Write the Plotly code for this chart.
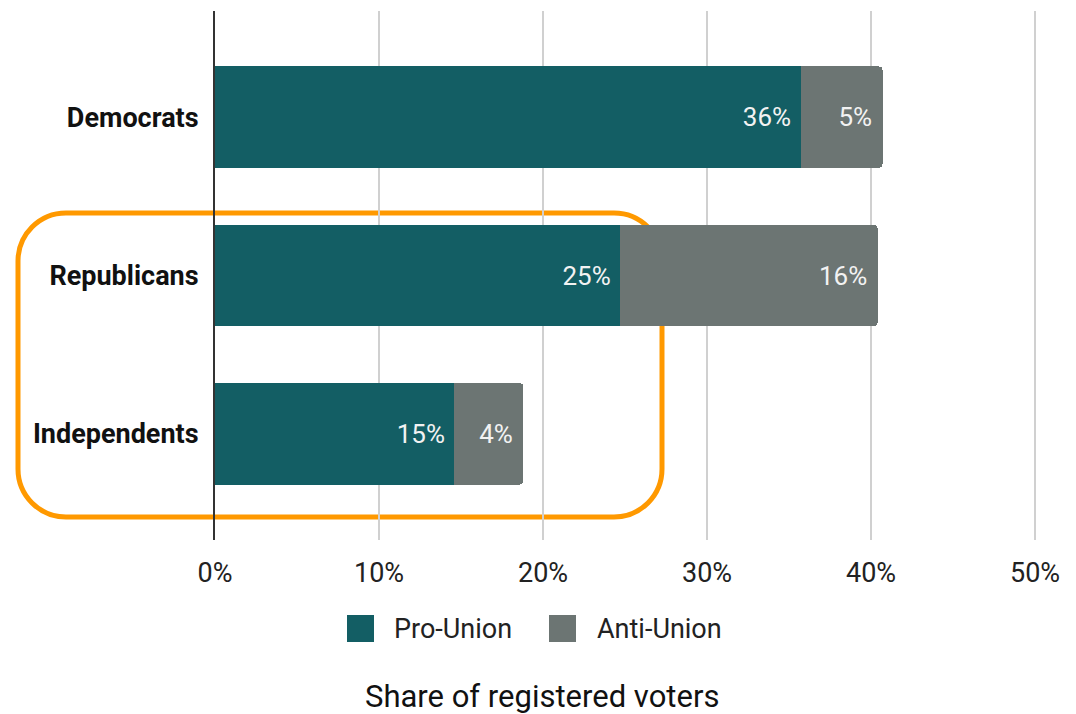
import plotly.graph_objects as go

# ---- data ----
categories = ["Democrats", "Republicans", "Independents"]
series_names = ["Pro-Union", "Anti-Union"]
pro_union = [35.7, 24.7, 14.6]
anti_union = [5.0, 15.7, 4.2]
x_ticks = [0, 10, 20, 30, 40, 50]
x_tick_labels = ["0%", "10%", "20%", "30%", "40%", "50%"]
x_title = "Share of registered voters"

colors = ["#135E64", "#6C7573"]
FONT = "Roboto"

X_MAX = 50.3
W, H = 1076, 714
ML, MT, MB = 215, 11, 174
PW = round(16.4 * X_MAX)
MR = W - ML - PW
PH = H - MT - MB


def px2paper(px, py):
    return (px - ML) / PW, (H - MB - py) / PH


fig = go.Figure()
for name, vals, col in zip(series_names, [pro_union, anti_union], colors):
    fig.add_trace(go.Bar(
        y=categories, x=vals, name=name, orientation="h",
        marker=dict(color=col, line=dict(width=0)),
        texttemplate="%{x:.0f}%\u00a0", textposition="inside",
        insidetextanchor="end",
        textfont=dict(family=FONT, size=26, color="#F2F2F2"),
        showlegend=False, hoverinfo="skip",
    ))

# rounded highlight box (decoration)
def rounded_rect(x0, y0, x1, y1, r):
    k = 0.5523 * r
    def P(x, y):
        a, b = px2paper(x, y)
        return f"{a:.5f},{b:.5f}"
    d = f"M{P(x0 + r, y0)} L{P(x1 - r, y0)} "
    d += f"C{P(x1 - r + k, y0)} {P(x1, y0 + r - k)} {P(x1, y0 + r)} "
    d += f"L{P(x1, y1 - r)} "
    d += f"C{P(x1, y1 - r + k)} {P(x1 - r + k, y1)} {P(x1 - r, y1)} "
    d += f"L{P(x0 + r, y1)} "
    d += f"C{P(x0 + r - k, y1)} {P(x0, y1 - r + k)} {P(x0, y1 - r)} "
    d += f"L{P(x0, y0 + r)} "
    d += f"C{P(x0, y0 + r - k)} {P(x0 + r - k, y0)} {P(x0 + r, y0)} Z"
    return d

fig.add_shape(type="path", xref="paper", yref="paper",
              path=rounded_rect(18, 213, 662, 517, 48),
              line=dict(color="#FF9900", width=5), layer="between")

# custom legend
legend_items = [(347, 392), (549, 595)]
for (sx, tx), name, col in zip(legend_items, series_names, colors):
    a0, b0 = px2paper(sx, 642)
    a1, b1 = px2paper(sx + 27, 615)
    fig.add_shape(type="rect", xref="paper", yref="paper",
                  x0=a0, y0=b0, x1=a1, y1=b1,
                  fillcolor=col, line=dict(width=0))
    ta, tb = px2paper(tx, 629)
    fig.add_annotation(xref="paper", yref="paper", x=ta, y=tb,
                       text=name, showarrow=False, xanchor="left", yanchor="middle",
                       font=dict(family=FONT, size=27, color="#222222"))

ta, tb = px2paper(542, 696)
fig.add_annotation(xref="paper", yref="paper", x=ta, y=tb, text=x_title,
                   showarrow=False, xanchor="center", yanchor="middle",
                   font=dict(family=FONT, size=31, color="#111111"))

fig.update_layout(
    width=W, height=H,
    margin=dict(l=ML, r=MR, t=MT, b=MB, autoexpand=False),
    barmode="stack", bargap=0.36, barcornerradius=4,
    plot_bgcolor="white", paper_bgcolor="white",
    font=dict(family=FONT, color="#222222"),
    xaxis=dict(range=[0, X_MAX], tickvals=x_ticks, ticktext=x_tick_labels,
               showgrid=True, gridcolor="#D0D0D0", gridwidth=2,
               zeroline=False, showline=False,
               ticks="outside", ticklen=9, tickcolor="rgba(0,0,0,0)",
               tickfont=dict(family=FONT, size=27, color="#222222")),
    yaxis=dict(categoryorder="array", categoryarray=categories,
               range=[2.67, -0.67], showgrid=False, zeroline=False,
               showline=True, linecolor="#333333", linewidth=2,
               layer="below traces",
               ticks="outside", ticklen=9, tickcolor="rgba(0,0,0,0)",
               tickfont=dict(family=FONT, size=27, color="#111111", weight="bold")),
)

fig.write_html("out.html", config={"displayModeBar": False},
               post_script="document.body.style.margin='0';")
